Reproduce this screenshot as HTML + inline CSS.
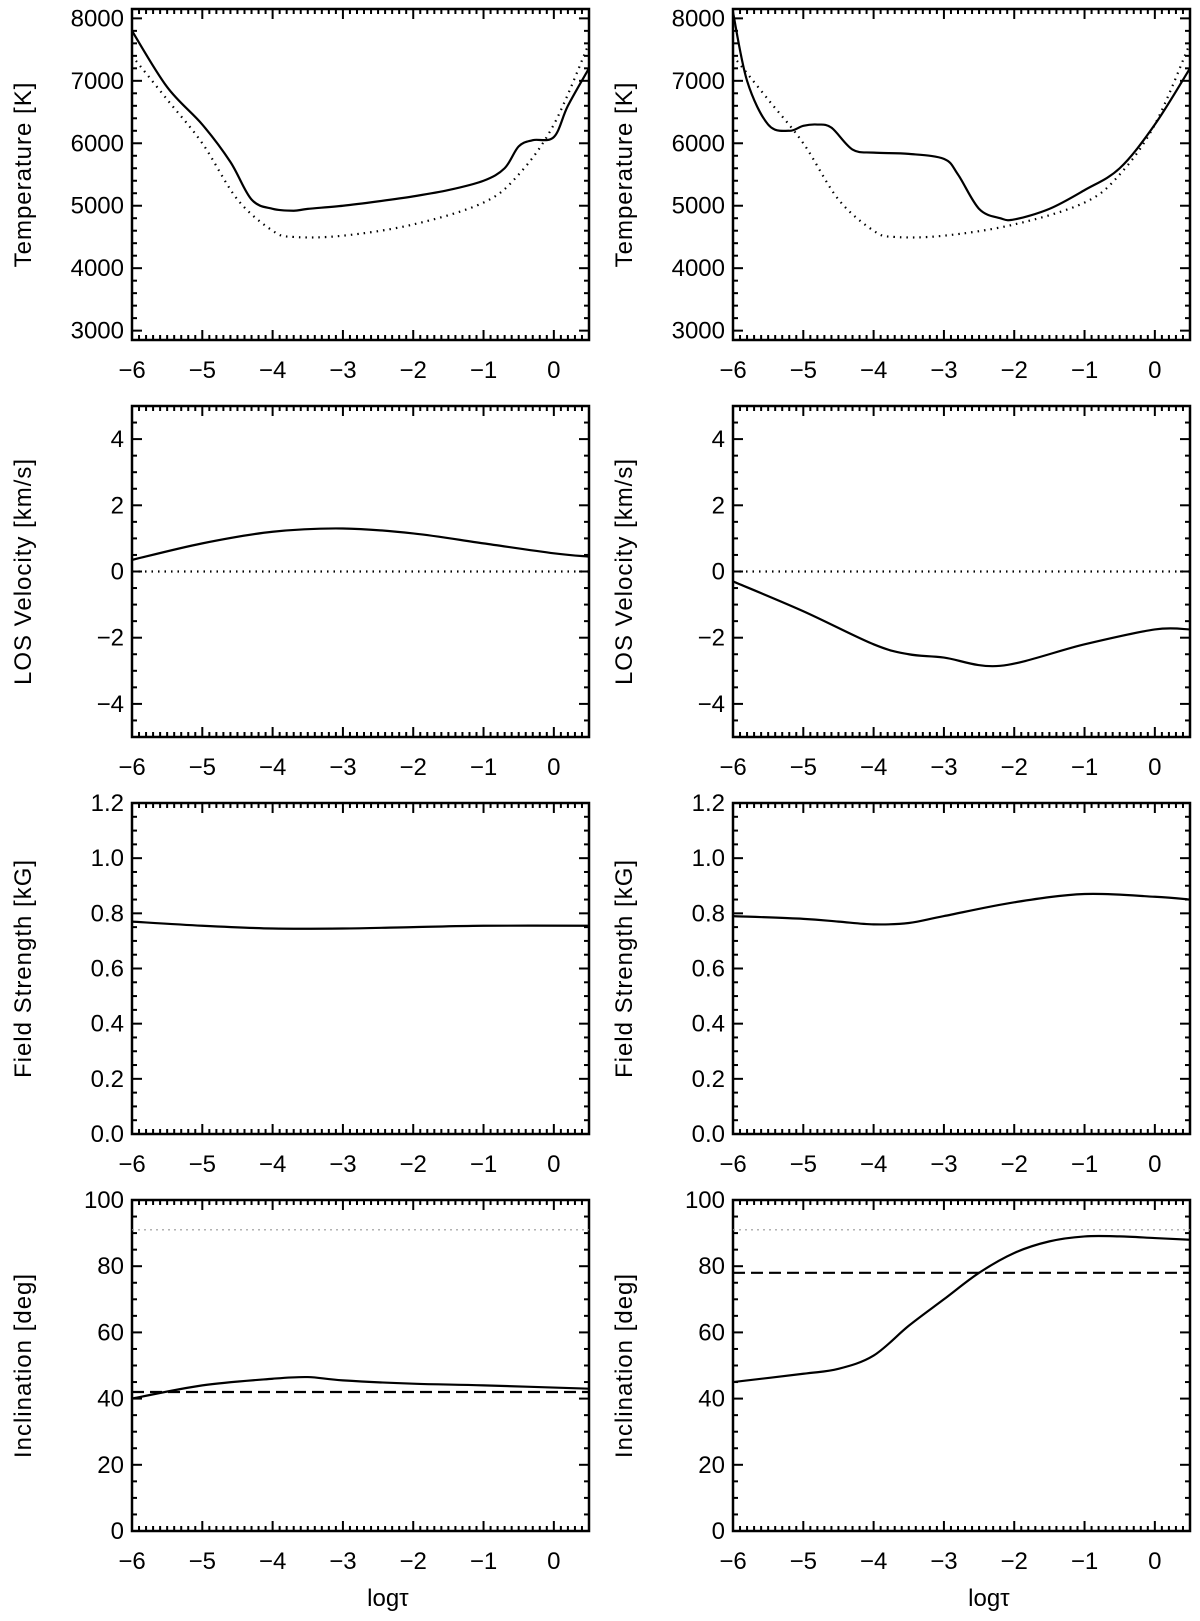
<!DOCTYPE html>
<html><head><meta charset="utf-8"><style>
body{margin:0;background:#fff;}
svg text{font-family:"Liberation Sans",sans-serif;fill:#000;}
</style></head><body>
<svg id="fig" width="1200" height="1616" xmlns="http://www.w3.org/2000/svg"></svg>
<script>
const xTicks=[-6,-5,-4,-3,-2,-1,0];
const tempTicks=[3000,4000,5000,6000,7000,8000];
const velTicks=[-4,-2,0,2,4];
const fieldTicks=[0.0,0.2,0.4,0.6,0.8,1.0,1.2];
const inclTicks=[0,20,40,60,80,100];
const tempL_x=[-6,-5.5,-5,-4.6,-4.3,-4,-3.7,-3.5,-3,-2.5,-2,-1.5,-1,-0.7,-0.5,-0.3,0,0.2,0.5];
const tempL_y=[7800,6900,6300,5700,5100,4950,4920,4950,5000,5070,5150,5250,5400,5600,5950,6050,6100,6600,7200];
const tempRef_x=[-6,-5.5,-5,-4.5,-4,-3.7,-3,-2,-1,-0.5,0,0.5];
const tempRef_y=[7400,6700,6000,5100,4600,4500,4520,4700,5050,5500,6300,7600];
const tempR_x=[-6,-5.8,-5.5,-5.2,-5,-4.8,-4.6,-4.3,-4,-3.5,-3,-2.8,-2.5,-2.2,-2,-1.5,-1,-0.5,0,0.5];
const tempR_y=[8100,7000,6300,6200,6280,6300,6250,5900,5850,5830,5750,5500,4950,4800,4780,4950,5250,5600,6300,7200];
const velL_x=[-6,-5,-4,-3,-2,-1,0,0.5];
const velL_y=[0.35,0.85,1.2,1.3,1.15,0.85,0.55,0.45];
const velR_x=[-6,-5,-4,-3.5,-3,-2.2,-1,0,0.5];
const velR_y=[-0.3,-1.2,-2.2,-2.5,-2.6,-2.85,-2.2,-1.75,-1.75];
const fieldL_x=[-6,-5,-4,-3,-2,-1,0.5];
const fieldL_y=[0.77,0.755,0.745,0.745,0.75,0.755,0.755];
const fieldR_x=[-6,-5,-4.5,-4,-3.5,-3,-2,-1,0,0.5];
const fieldR_y=[0.79,0.78,0.77,0.76,0.765,0.79,0.84,0.87,0.86,0.85];
const inclL_x=[-6,-5,-4,-3.5,-3,-2,-1,0.5];
const inclL_y=[40,44,46,46.5,45.5,44.5,44,43];
const inclR_x=[-6,-5,-4.5,-4,-3.5,-3,-2.5,-2,-1.5,-1,-0.5,0,0.5];
const inclR_y=[45,47.5,49,53,62,70,78,84,87.5,89,89,88.5,88];
const inclL_ref=[42];const inclR_ref=[78];const inclVertical=[91];const velRef=[0];

const NS="http://www.w3.org/2000/svg";
const svg=document.getElementById('fig');
function el(t,a,p){const e=document.createElementNS(NS,t);for(const k in a)e.setAttribute(k,a[k]);(p||svg).appendChild(e);return e;}
const COLX=[132,733],ROWY=[9,406,803,1200],W=457,H=331;
function panel(col,row,ymin,ymax,yt,ymin_step,label,fmt,name){
  const x0=COLX[col],y0=ROWY[row];
  const g=el('g',{});
  
  
  const sx=v=>x0+(v+6)/6.5*W, sy=v=>y0+H-(v-ymin)/(ymax-ymin)*H;
  el('rect',{x:x0,y:y0,width:W,height:H,fill:'none',stroke:'#000','stroke-width':2.5},g);
  for(let i=-60;i<=5;i++){const v=i/10,X=sx(v),L=(i%10===0)?10:5;
    el('line',{x1:X,x2:X,y1:y0+H,y2:y0+H-L,stroke:'#000','stroke-width':2},g);
    el('line',{x1:X,x2:X,y1:y0,y2:y0+L,stroke:'#000','stroke-width':2},g);}
  xTicks.forEach(v=>{const t=el('text',{x:sx(v),y:y0+H+38,'font-size':24,'text-anchor':'middle'},g);t.textContent=(v<0?'\u2212'+(-v):''+v);});
  const start=Math.ceil(ymin/ymin_step);
  for(let i=start;i*ymin_step<=ymax+1e-9;i++){const v=i*ymin_step,Y=sy(v);
    const major=yt.some(t=>Math.abs(t-v)<1e-9);const L=major?10:5;
    el('line',{x1:x0,x2:x0+L,y1:Y,y2:Y,stroke:'#000','stroke-width':2},g);
    el('line',{x1:x0+W,x2:x0+W-L,y1:Y,y2:Y,stroke:'#000','stroke-width':2},g);}
  yt.forEach(v=>{const t=el('text',{x:x0-8,y:sy(v)+8,'font-size':24,'text-anchor':'end'},g);t.textContent=fmt(v);});
  const lx=x0-101, ly=y0+H/2;
  const yl=el('text',{x:lx,y:ly,'font-size':24,'text-anchor':'middle','letter-spacing':1,transform:`rotate(-90 ${lx} ${ly})`},g);
  yl.textContent=label;
  
  
  const clip='c'+col+row;
  const cp=el('clipPath',{id:clip},g);el('rect',{x:x0,y:y0,width:W,height:H},cp);
  return {sx,sy,g,clip};
}
function curve(p,xs,ys,style,name){
  const P=xs.map((x,i)=>[p.sx(x),p.sy(ys[i])]);
  let d='M'+P[0][0]+','+P[0][1];
  for(let i=0;i<P.length-1;i++){const p0=P[i-1]||P[i],p1=P[i],p2=P[i+1],p3=P[i+2]||P[i+1];
    d+=` C${p1[0]+(p2[0]-p0[0])/6},${p1[1]+(p2[1]-p0[1])/6} ${p2[0]-(p3[0]-p1[0])/6},${p2[1]-(p3[1]-p1[1])/6} ${p2[0]},${p2[1]}`;}
  const e=el('path',Object.assign({d,fill:'none','clip-path':`url(#${p.clip})`},style),p.g);
  
  
}
function hline(p,v,style,name){
  const e=el('line',Object.assign({x1:p.sx(-6),x2:p.sx(0.5),y1:p.sy(v),y2:p.sy(v)},style),p.g);
  
  
}
const solid={stroke:'#000','stroke-width':2.2};
const dotted={stroke:'#000','stroke-width':2.2,'stroke-dasharray':'1.5 5'};
const dashed={stroke:'#000','stroke-width':2.2,'stroke-dasharray':'12 6'};
const gray={stroke:'#999','stroke-width':1.2,'stroke-dasharray':'2 4'};
const fi=v=>''+v, f1=v=>v.toFixed(1), fv=v=>(v<0?'\u2212'+(-v):''+v);
for(let c=0;c<2;c++){
  const p1=panel(c,0,2850,8150,tempTicks,200,'Temperature [K]',fi,c?'temperature-panel-right':'temperature-panel-left');
  curve(p1,tempRef_x,tempRef_y,dotted,'temperature-reference');
  curve(p1,c?tempR_x:tempL_x,c?tempR_y:tempL_y,solid,'temperature-curve');
  const p2=panel(c,1,-5,5,velTicks,0.5,'LOS Velocity [km/s]',fv,c?'velocity-panel-right':'velocity-panel-left');
  hline(p2,velRef[0],dotted,'velocity-zero');
  curve(p2,c?velR_x:velL_x,c?velR_y:velL_y,solid,'velocity-curve');
  const p3=panel(c,2,0,1.2,fieldTicks,0.05,'Field Strength [kG]',f1,c?'field-panel-right':'field-panel-left');
  curve(p3,c?fieldR_x:fieldL_x,c?fieldR_y:fieldL_y,solid,'field-curve');
  const p4=panel(c,3,0,100,inclTicks,5,'Inclination [deg]',fi,c?'inclination-panel-right':'inclination-panel-left');
  hline(p4,inclVertical[0],gray,'inclination-90');
  hline(p4,c?inclR_ref[0]:inclL_ref[0],dashed,'inclination-reference');
  curve(p4,c?inclR_x:inclL_x,c?inclR_y:inclL_y,solid,'inclination-curve');
  const t=el('text',{x:COLX[c]+W*6/6.5/2+45,y:1606,'font-size':24,'text-anchor':'middle'});
  t.textContent='log\u03c4';
  
  
}
</script>
</body></html>
